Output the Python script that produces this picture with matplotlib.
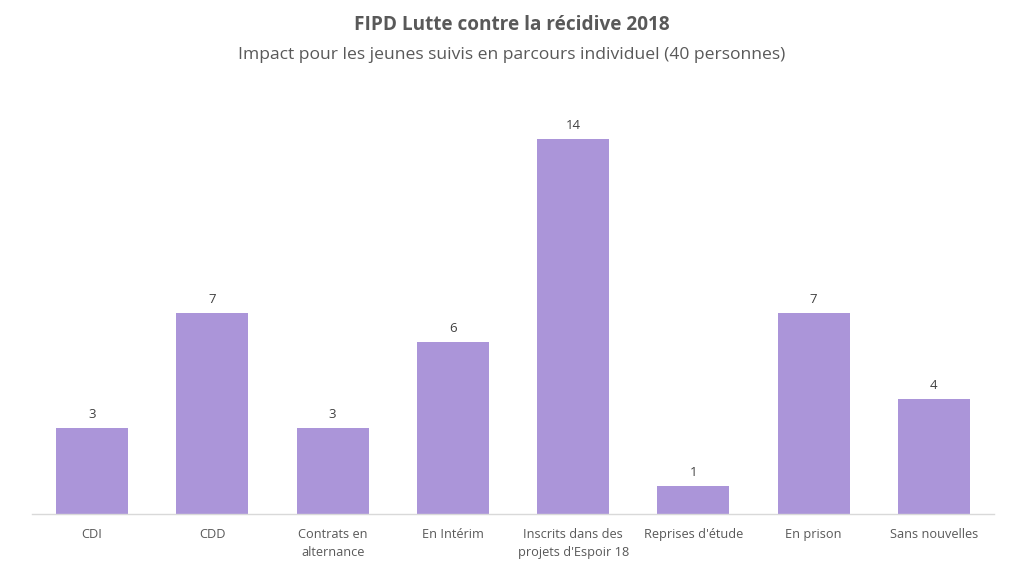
import matplotlib
matplotlib.use("Agg")
import matplotlib.pyplot as plt

categories = ["CDI", "CDD", "Contrats en\nalternance", "En Intérim",
              "Inscrits dans des\nprojets d'Espoir 18", "Reprises d'étude",
              "En prison", "Sans nouvelles"]
values = [3, 7, 3, 6, 14, 1, 7, 4]
title = "FIPD Lutte contre la récidive 2018"
subtitle = "Impact pour les jeunes suivis en parcours individuel (40 personnes)"

bar_color = "#AB95D9"
text_color = "#595959"
plt.rcParams['font.family'] = ['Open Sans', 'DejaVu Sans']

fig = plt.figure(figsize=(10.24, 5.67), dpi=100)
ax = fig.add_axes([0.03125, 0.0926, 0.9395, 0.6623])
x = list(range(len(categories)))
ax.bar(x, values, width=0.6, color=bar_color)
ymax = 13.04
ax.set_ylim(0, ymax)
ax.set_xlim(-0.5, len(categories) - 0.5)
for xi, v in zip(x, values):
    ax.annotate(str(v), (xi, min(v, ymax)), xytext=(0, 5), textcoords="offset points",
                ha="center", va="bottom", fontsize=9.5, color="#404040", annotation_clip=False)
ax.set_xticks(x)
ax.set_xticklabels(categories, fontsize=9.2, color=text_color, linespacing=1.45)
ax.tick_params(axis="x", length=0, pad=10)
ax.set_yticks([])
for s in ["top", "right", "left"]:
    ax.spines[s].set_visible(False)
ax.spines["bottom"].set_color("#D9D9D9")
ax.spines["bottom"].set_linewidth(1)

fig.text(0.5, 1 - 25 / 567, title, ha="center", va="center", fontsize=13.7,
         fontweight="bold", color=text_color)
fig.text(0.5, 1 - 55 / 567, subtitle, ha="center", va="center", fontsize=12.6,
         color=text_color)

fig.savefig("out.png", dpi=100, facecolor="white")
